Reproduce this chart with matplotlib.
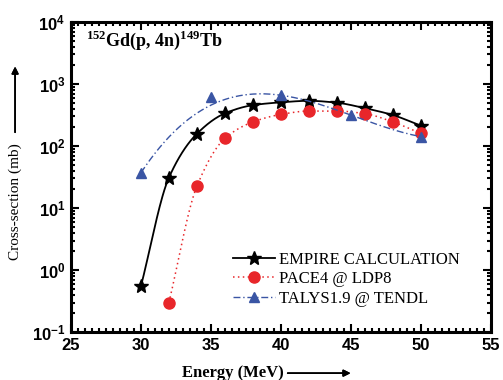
import numpy as np
import matplotlib.pyplot as plt
from matplotlib.ticker import MultipleLocator, LogLocator, NullFormatter

plt.rcParams['mathtext.fontset'] = 'custom'
plt.rcParams['mathtext.rm'] = 'Liberation Serif'
plt.rcParams['mathtext.bf'] = 'Liberation Serif:bold'

# data
empire_e = [30, 32, 34, 36, 38, 40, 42, 44, 46, 48, 50]
empire_xs = [0.55, 31, 158, 337, 457, 507, 537, 500, 408, 316, 213]

pace_e = [32, 34, 36, 38, 40, 42, 44, 46, 48, 50]
pace_xs = [0.30, 22.6, 133, 245, 324, 367, 367, 333, 245, 160]

talys_e = [30, 35, 40, 45, 50]
talys_xs = [37, 610, 660, 316, 142]


def pchip(x, y, n=300):
    # monotone cubic through the points, in log space
    x = np.asarray(x, float)
    y = np.log10(y)
    h = np.diff(x)
    d = np.diff(y) / h
    m = np.zeros_like(y)
    for i in range(1, len(x) - 1):
        if d[i - 1] * d[i] > 0:
            w1 = 2 * h[i] + h[i - 1]
            w2 = h[i] + 2 * h[i - 1]
            m[i] = (w1 + w2) / (w1 / d[i - 1] + w2 / d[i])
    m[0] = d[0]
    m[-1] = d[-1]
    xs = np.linspace(x[0], x[-1], n)
    idx = np.clip(np.searchsorted(x, xs) - 1, 0, len(x) - 2)
    t = (xs - x[idx]) / h[idx]
    h00 = 2 * t ** 3 - 3 * t ** 2 + 1
    h10 = t ** 3 - 2 * t ** 2 + t
    h01 = -2 * t ** 3 + 3 * t ** 2
    h11 = t ** 3 - t ** 2
    ys = h00 * y[idx] + h10 * h[idx] * m[idx] + h01 * y[idx + 1] + h11 * h[idx] * m[idx + 1]
    return xs, 10 ** ys


fig = plt.figure(figsize=(5.03, 3.80), dpi=100)
ax = fig.add_axes([0.141, 0.126, 0.835, 0.816])

red = '#e8262a'
blue = '#3a55a4'

xs, ys = pchip(empire_e, empire_xs)
ax.plot(xs, ys, color='black', lw=1.3)
ax.plot(empire_e, empire_xs, '*', color='black', ms=10, ls='none')

xs, ys = pchip(pace_e, pace_xs)
ax.plot(xs, ys, color=red, lw=1.1, ls=(0, (1, 2.2)))
ax.plot(pace_e, pace_xs, 'o', color=red, ms=8, ls='none')

# TALYS line is a smooth fit, not through every point
w = [1, 0.01, 1, 1, 1]
p = np.polyfit(talys_e, np.log10(talys_xs), 3, w=w)
xs = np.linspace(30, 50, 300)
ax.plot(xs, 10 ** np.polyval(p, xs), color=blue, lw=1.0, ls=(0, (5, 2, 1, 2)))
ax.plot(talys_e, talys_xs, '^', color=blue, ms=7, ls='none')

# legend proxies
h1, = ax.plot([], [], '*-', color='black', ms=10, lw=1.3)
h2, = ax.plot([], [], 'o', color=red, ms=8, lw=1.1, ls=(0, (1, 2.2)))
h3, = ax.plot([], [], '^', color=blue, ms=7, lw=1.0, ls=(0, (5, 2, 1, 2)))
ax.legend([h1, h2, h3], ['EMPIRE CALCULATION', 'PACE4 @ LDP8', 'TALYS1.9 @ TENDL'],
          loc='lower left', bbox_to_anchor=(0.37, 0.06), frameon=False,
          prop={'family': 'Liberation Serif', 'size': 12},
          handlelength=2.5, handletextpad=0.25, labelspacing=0.22, borderaxespad=0)

ax.set_yscale('log')
ax.set_xlim(25, 55)
ax.set_ylim(0.1, 1e4)
ax.xaxis.set_major_locator(MultipleLocator(5))
ax.xaxis.set_minor_locator(MultipleLocator(0.5))
ax.yaxis.set_major_locator(LogLocator(base=10, numticks=10))
ax.yaxis.set_minor_locator(LogLocator(base=10, subs=np.arange(2, 10), numticks=10))
ax.yaxis.set_minor_formatter(NullFormatter())
ax.tick_params(which='both', direction='in', top=True, right=True, width=1.5)
ax.tick_params(which='major', length=6, labelsize=12, pad=4)
ax.tick_params(which='minor', length=3)
for lab in ax.get_xticklabels() + ax.get_yticklabels():
    lab.set_fontweight('bold')
    lab.set_family('Liberation Sans')
for s in ax.spines.values():
    s.set_linewidth(2.2)

ax.text(0.035, 0.94, r'$^{\mathbf{152}}$Gd(p, 4n)$^{\mathbf{149}}$Tb', transform=ax.transAxes,
        fontsize=13, fontweight='bold', family='Liberation Serif', va='center')

fig.text(0.030, 0.47, 'Cross-section (mb)', rotation=90, ha='center', va='center',
         fontsize=11, family='Liberation Serif')
fig.text(0.462, 0.018, 'Energy (MeV)', ha='center', va='center',
         fontsize=12, fontweight='bold', family='Liberation Serif')
fig.add_artist(plt.annotate('', xy=(0.030, 0.825), xytext=(0.030, 0.652),
                            xycoords='figure fraction',
                            arrowprops=dict(arrowstyle='-|>', color='black', lw=1.2,
                                            shrinkA=0, shrinkB=0)))
fig.add_artist(plt.annotate('', xy=(0.697, 0.018), xytext=(0.572, 0.018),
                            xycoords='figure fraction',
                            arrowprops=dict(arrowstyle='-|>', color='black', lw=1.2,
                                            shrinkA=0, shrinkB=0)))

fig.savefig('out.png', dpi=100)
